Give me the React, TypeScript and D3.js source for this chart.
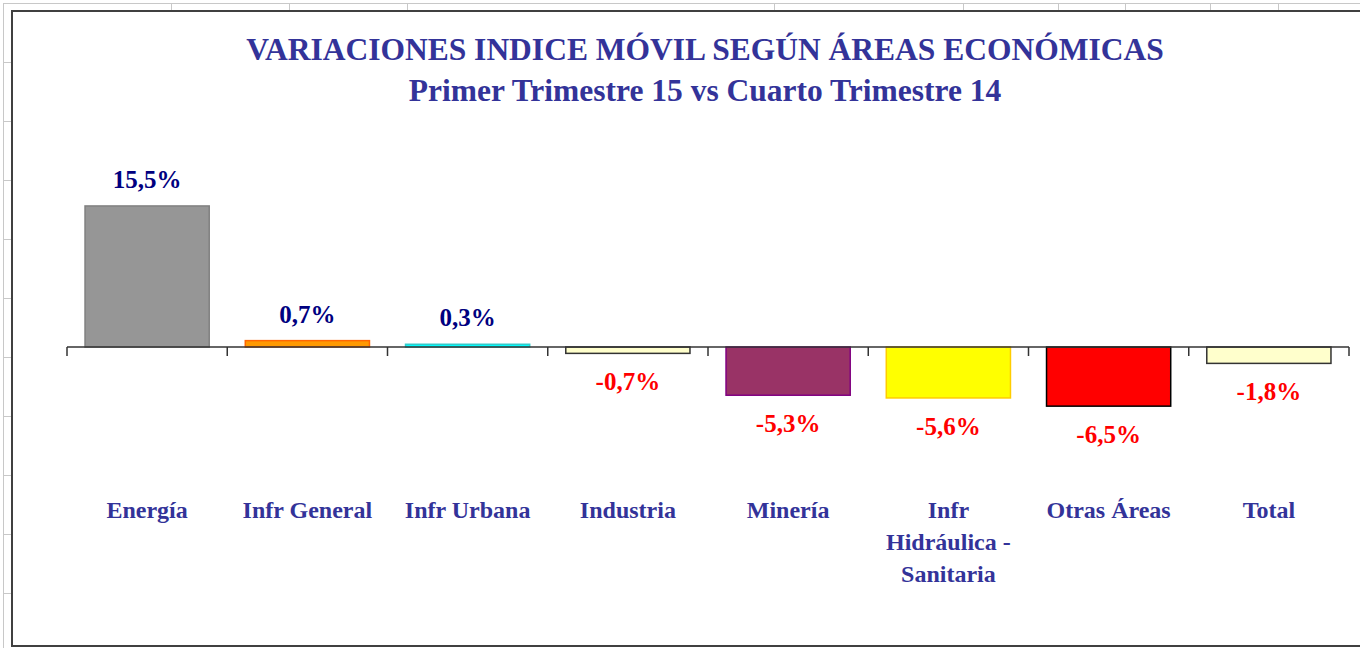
import * as d3 from 'd3';
import { useEffect, useRef } from 'react';

const categories = ['Energía', 'Infr General', 'Infr Urbana', 'Industria', 'Minería', 'Infr Hidráulica - Sanitaria', 'Otras Áreas', 'Total'];
const values = [15.5, 0.7, 0.3, -0.7, -5.3, -5.6, -6.5, -1.8];
const fills = ['#969696', '#FF9900', '#00FFFF', '#FFFFCC', '#993366', '#FFFF00', '#FF0000', '#FFFFCC'];
const strokes = ['#808080', '#FF6600', '#33CCCC', '#333333', '#800080', '#FFCC00', '#000000', '#333333'];
const titleLines = ['VARIACIONES INDICE MÓVIL SEGÚN ÁREAS ECONÓMICAS', 'Primer Trimestre 15 vs Cuarto Trimestre 14'];

// spreadsheet columns visible above the chart object
const sheetCols = [171, 289, 407, 774, 963, 1058, 1125, 1210, 1278];

const fmt = (v: number) => v.toFixed(1).replace('.', ',') + '%';

function App() {
  const ref = useRef<SVGSVGElement>(null);

  useEffect(() => {
    document.body.style.margin = '0';
    const w = 1360, h = 648;
    const svg = d3.select(ref.current);
    svg.selectAll('*').remove();
    const font = '"Liberation Serif", "Times New Roman", serif';

    // sheet grid behind the chart
    const grid = svg.append('g').attr('stroke', '#c8c8c8').attr('stroke-width', 1);
    grid.append('line').attr('x1', 3).attr('x2', w).attr('y1', 3.5).attr('y2', 3.5);
    grid.append('line').attr('x1', 3.5).attr('x2', 3.5).attr('y1', 3).attr('y2', h);
    sheetCols.forEach(c => grid.append('line').attr('x1', c + 0.5).attr('x2', c + 0.5).attr('y1', 3).attr('y2', 11));
    d3.range(62, h, 59).forEach(r => grid.append('line').attr('x1', 3).attr('x2', 11).attr('y1', r + 0.5).attr('y2', r + 0.5));

    // chart frame
    svg.append('rect')
        .attr('x', 12).attr('y', 11)
        .attr('width', w).attr('height', 635)
        .attr('fill', '#fff')
        .attr('stroke', '#404040')
        .attr('stroke-width', 2);

    const x = d3.scaleBand<string>()
        .domain(categories)
        .range([67, 1349])
        .paddingInner(0.225)
        .paddingOuter(0.1125);

    const y = d3.scaleLinear()
        .domain([-10, 20])
        .range([438, 165]);

    // title
    const title = svg.append('g')
        .attr('font-family', font)
        .attr('font-weight', 'bold')
        .attr('font-size', 31.5)
        .attr('fill', '#333399')
        .attr('text-anchor', 'middle');
    titleLines.forEach((t, i) => {
      title.append('text').attr('x', 705).attr('y', 60 + i * 41).text(t);
    });

    // bars
    svg.append('g')
        .selectAll('rect')
        .data(values)
        .join('rect')
        .attr('x', (_, i) => x(categories[i])!)
        .attr('width', x.bandwidth())
        .attr('y', d => y(Math.max(0, d)))
        .attr('height', d => Math.abs(y(d) - y(0)))
        .attr('fill', (_, i) => fills[i])
        .attr('stroke', (_, i) => strokes[i])
        .attr('stroke-width', 1.5);

    // category axis
    const axis = svg.append('g').attr('stroke', '#333').attr('stroke-width', 1.5);
    axis.append('line')
        .attr('x1', x.range()[0]).attr('x2', x.range()[1])
        .attr('y1', y(0)).attr('y2', y(0));
    d3.range(categories.length + 1).forEach(i => {
      const tx = x.range()[0] + i * x.step();
      axis.append('line').attr('x1', tx).attr('x2', tx).attr('y1', y(0)).attr('y2', y(0) + 9);
    });

    // value labels
    svg.append('g')
        .selectAll('text')
        .data(values)
        .join('text')
        .attr('x', (_, i) => x(categories[i])! + x.bandwidth() / 2)
        .attr('y', d => d >= 0 ? y(d) - 18 : y(d) + 37)
        .attr('text-anchor', 'middle')
        .attr('font-family', font)
        .attr('font-size', 25)
        .attr('font-weight', 'bold')
        .attr('fill', d => d >= 0 ? '#000080' : '#FF0000')
        .text(d => fmt(d));

    // category labels, wrapped like Excel does
    const labels = svg.append('g')
        .attr('font-family', font)
        .attr('font-size', 24)
        .attr('font-weight', 'bold')
        .attr('fill', '#333399')
        .attr('text-anchor', 'middle');
    categories.forEach(c => {
      const cx = x(c)! + x.bandwidth() / 2;
      const text = labels.append('text').attr('x', cx).attr('y', 518);
      const words = c.split(' ');
      let line: string[] = [];
      let tspan = text.append('tspan').attr('x', cx).attr('dy', 0);
      words.forEach(word => {
        line.push(word);
        tspan.text(line.join(' '));
        if ((tspan.node() as SVGTSpanElement).getComputedTextLength() > 145 && line.length > 1) {
          line.pop();
          tspan.text(line.join(' '));
          line = [word];
          tspan = text.append('tspan').attr('x', cx).attr('dy', 32).text(word);
        }
      });
    });
  }, []);

  return <svg ref={ref} width={1360} height={648} style={{ display: 'block', background: '#fff' }} />;
}

export default App;
